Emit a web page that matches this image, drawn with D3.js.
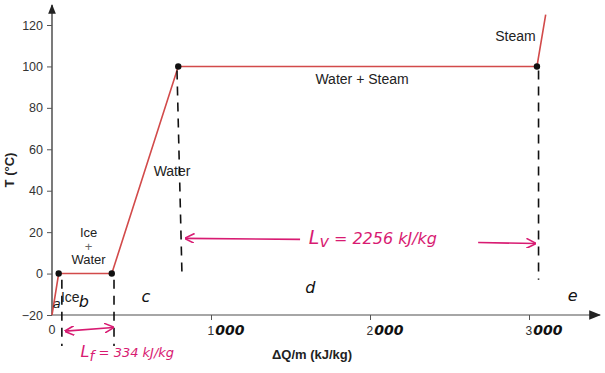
<!DOCTYPE html>
<html>
<head>
<meta charset="utf-8">
<script src="https://cdn.jsdelivr.net/npm/d3@7"></script>
<style>
  body { margin: 0; background: #fff; }
  svg { font-family: "Liberation Sans", Arial, sans-serif; }
</style>
</head>
<body>
<div id="chart"></div>
<script>
// heating curve of water
const heatPerMass = [0, 42, 376, 794, 3050, 3105];
const temperature = [-20, 0, 0, 100, 100, 125];
const cornerIdx = [1, 2, 3, 4];

const yTicks = [-20, 0, 20, 40, 60, 80, 100, 120];
const xTicks = [1000, 2000, 3000];

const phaseLabels = [
  { lines: ["Ice"], q: 115, t: -13.5 },
  { lines: ["Ice", "+", "Water"], q: 230, t: 17.5 },
  { lines: ["Water"], q: 755, t: 47 },
  { lines: ["Water + Steam"], q: 1950, t: 91.5 },
  { lines: ["Steam"], q: 2915, t: 112.5 }
];

// hand-drawn notes
const guideQ = [62, 390, 805, 3060];
const guideTop = [-3, -3, 98, 98];
const guideBottom = [-35, -35, -1, -3];
const letters = ["a", "b", "c", "d", "e"];
const letterQ = [30, 200, 590, 1625, 3275];
const letterT = [-16.5, -16, -13.5, -9.5, -13];

const width = 605, height = 373;

const x = d3.scaleLinear().domain([0, 1000]).range([52, 211]);
const y = d3.scaleLinear().domain([-20, 120]).range([315, 25]);

const svg = d3.select("#chart").append("svg")
  .attr("width", width)
  .attr("height", height);

const defs = svg.append("defs");
defs.append("marker")
  .attr("id", "axArrow").attr("viewBox", "0 0 10 10")
  .attr("refX", 9).attr("refY", 5)
  .attr("markerWidth", 8).attr("markerHeight", 8)
  .attr("orient", "auto-start-reverse")
  .append("path").attr("d", "M0,1 L10,5 L0,9 z").attr("fill", "#222");

const pink = "#d81b72";
defs.append("marker")
  .attr("id", "pinkArrow").attr("viewBox", "0 0 10 10")
  .attr("refX", 9).attr("refY", 5)
  .attr("markerWidth", 10).attr("markerHeight", 10)
  .attr("markerUnits", "userSpaceOnUse")
  .attr("orient", "auto-start-reverse")
  .append("path").attr("d", "M0,0 L10,5 L0,10")
  .attr("fill", "none").attr("stroke", pink).attr("stroke-width", 1.6);

// axes
svg.append("line")
  .attr("x1", x(0)).attr("x2", 600)
  .attr("y1", y(-20)).attr("y2", y(-20))
  .attr("stroke", "#888").attr("stroke-width", 1.5)
  .attr("marker-end", "url(#axArrow)");
svg.append("line")
  .attr("x1", x(0)).attr("x2", x(0))
  .attr("y1", y(-20)).attr("y2", 5)
  .attr("stroke", "#222").attr("stroke-width", 1.2)
  .attr("marker-end", "url(#axArrow)");

const yAx = svg.append("g")
  .attr("transform", `translate(${x(0)},0)`)
  .call(d3.axisLeft(y).tickValues(yTicks).tickSize(5).tickPadding(4)
    .tickFormat(d => d < 0 ? "\u2212" + Math.abs(d) : d));
yAx.select(".domain").remove();
yAx.selectAll("line").attr("stroke", "#555");
yAx.selectAll("text").attr("font-size", 12.5).attr("fill", "#333")
  .attr("font-family", "Liberation Sans, Arial, sans-serif");

const xAx = svg.append("g")
  .attr("transform", `translate(0,${y(-20)})`)
  .call(d3.axisBottom(x).tickValues(xTicks).tickSize(5).tickPadding(6).tickFormat(""));
xAx.select(".domain").remove();
xAx.selectAll("line").attr("stroke", "#555");
xAx.selectAll(".tick").append("text")
  .attr("y", 20).attr("x", -4)
  .attr("text-anchor", "start")
  .attr("font-size", 12)
  .each(function(d) {
    const t = d3.select(this);
    t.append("tspan").attr("fill", "#333")
      .attr("font-family", "Liberation Sans, Arial, sans-serif")
      .text(String(d).slice(0, 1));
    t.append("tspan").attr("fill", "#111").attr("font-weight", "bold")
      .attr("font-size", 14).attr("font-style", "italic").attr("dx", 1)
      .attr("font-family", "DejaVu Sans, sans-serif")
      .text(String(d).slice(1));
  });
svg.append("text")
  .attr("x", x(0)).attr("y", y(-20) + 19)
  .attr("text-anchor", "middle").attr("font-size", 12.5).attr("fill", "#333")
  .text("0");

// axis titles
svg.append("text")
  .attr("transform", `translate(14,${y(50)}) rotate(-90)`)
  .attr("text-anchor", "middle")
  .attr("font-size", 13).attr("font-weight", "bold").attr("fill", "#222")
  .text("T (°C)");
svg.append("text")
  .attr("x", 312).attr("y", 359)
  .attr("text-anchor", "middle")
  .attr("font-size", 13).attr("font-weight", "bold").attr("fill", "#222")
  .text("ΔQ/m (kJ/kg)");

// curve
const pts = heatPerMass.map((q, i) => [q, temperature[i]]);
svg.append("path")
  .datum(pts)
  .attr("fill", "none")
  .attr("stroke", "#d24a4a")
  .attr("stroke-width", 1.6)
  .attr("d", d3.line().x(d => x(d[0])).y(d => y(d[1])));

svg.append("g").selectAll("circle")
  .data(cornerIdx.map(i => pts[i]))
  .join("circle")
  .attr("cx", d => x(d[0])).attr("cy", d => y(d[1]))
  .attr("r", 3.2).attr("fill", "#111");

// phase labels (multi-line ones as separate texts)
phaseLabels.forEach(p => {
  const many = p.lines.length > 1;
  p.lines.forEach((ln, i) => {
    svg.append("text")
      .attr("x", x(p.q)).attr("y", y(p.t) + i * 13.5)
      .attr("text-anchor", "middle")
      .attr("font-size", many ? 13 : 14)
      .attr("fill", ln === "+" ? "#666" : "#222")
      .text(ln);
  });
});

// hand annotations: dashed guides
svg.append("g").selectAll("line")
  .data(guideQ)
  .join("line")
  .attr("x1", (d, i) => x(d) - (i === 2 ? 3 : 0))
  .attr("x2", (d, i) => x(d) + (i === 2 ? 2 : 0))
  .attr("y1", (d, i) => y(guideTop[i]))
  .attr("y2", (d, i) => y(guideBottom[i]))
  .attr("stroke", "#111").attr("stroke-width", 1.6)
  .attr("stroke-dasharray", "9,7");

svg.append("g").selectAll("text")
  .data(letters)
  .join("text")
  .attr("x", (d, i) => x(letterQ[i])).attr("y", (d, i) => y(letterT[i]))
  .attr("text-anchor", "middle")
  .attr("font-family", "DejaVu Sans, sans-serif")
  .attr("font-size", (d, i) => i === 0 ? 13 : 16)
  .attr("font-style", "italic").attr("fill", "#111")
  .text(d => d);

// latent heat arrows + text
const arrowLine = (q1, t1, q2, t2, both) => svg.append("line")
  .attr("x1", x(q1)).attr("y1", y(t1)).attr("x2", x(q2)).attr("y2", y(t2))
  .attr("stroke", pink).attr("stroke-width", 1.6)
  .attr("marker-end", "url(#pinkArrow)")
  .attr("marker-start", both ? "url(#pinkArrow)" : null);

arrowLine(85, -27.8, 385, -26, true);
arrowLine(1560, 16.5, 840, 17, false);
arrowLine(2680, 15, 3040, 14.5, false);

svg.append("text")
  .attr("x", x(180)).attr("y", y(-40.5))
  .attr("font-family", "DejaVu Sans, sans-serif")
  .attr("font-style", "italic")
  .attr("font-size", 16).attr("fill", pink)
  .text("L")
  .append("tspan").attr("dy", 4).attr("font-size", 14).text("f")
  .append("tspan").attr("dy", -4).attr("font-size", 13).text(" = 334 kJ/kg");

svg.append("text")
  .attr("x", x(1615)).attr("y", y(14.2))
  .attr("font-family", "DejaVu Sans, sans-serif")
  .attr("font-style", "italic")
  .attr("font-size", 19).attr("fill", pink)
  .text("L")
  .append("tspan").attr("dy", 3).attr("font-size", 16).text("v")
  .append("tspan").attr("dy", -3).attr("font-size", 16).text(" = 2256 kJ/kg");
</script>
</body>
</html>
